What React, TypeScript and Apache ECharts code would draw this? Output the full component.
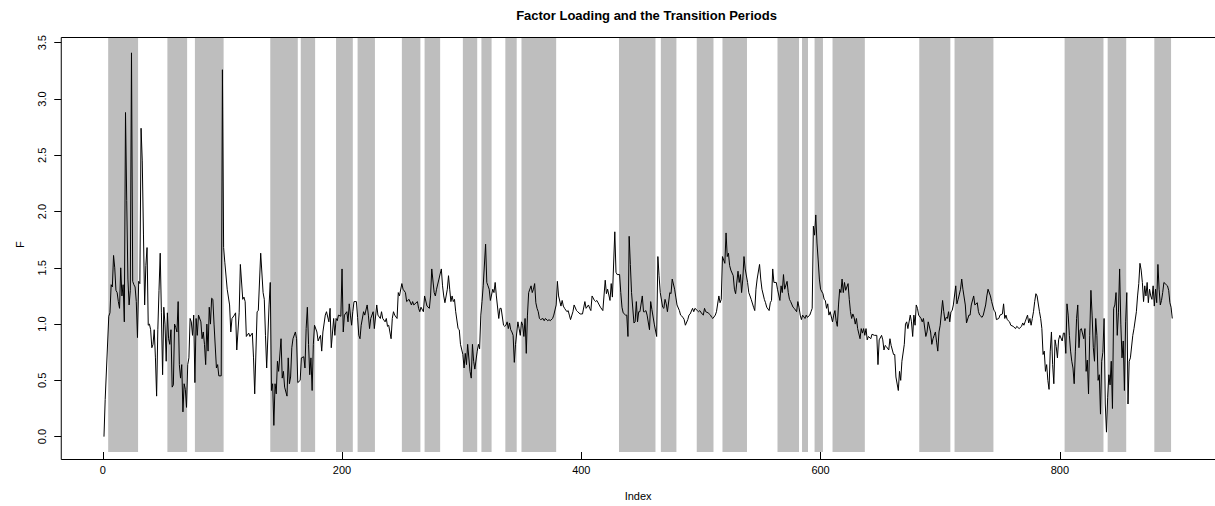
import React, { useEffect, useRef } from "react";
import * as echarts from "echarts";

const TITLE = "Factor Loading and the Transition Periods";
const X_NAME = "Index";
const Y_NAME = "F";
const X_TICKS = [0, 200, 400, 600, 800];
const Y_TICKS = [0, 0.5, 1, 1.5, 2, 2.5, 3, 3.5];

// transition periods (index ranges shaded in grey)
const BAND_START = [4.5, 54, 77, 140, 165.5, 195, 213, 250, 269, 301, 316.5, 336.5, 350, 431.5, 466.5, 496.5, 518, 564, 584.5, 595, 610, 682.5, 712, 804, 840, 879];
const BAND_END = [29.5, 70.5, 101, 163, 177.5, 209, 227.5, 265.5, 282, 313, 325, 346, 379, 462, 479.5, 510.5, 538.5, 582, 589.5, 602, 637, 708.5, 744.5, 836.5, 855.5, 893];

// factor loading F, as [index, value]
const F_A: [number, number][] = [
  [1, 0.0], [2, 0.33], [5, 1.07], [6, 1.1], [7, 1.35], [8, 1.33], [9, 1.61], [10, 1.5], [11, 1.3], [12, 1.28], [13, 1.2], [14, 1.14], [15, 1.5], [16, 1.25], [17, 1.35], [18, 1.02], [19, 2.88], [20, 2.1], [21, 1.4], [22, 1.17], [23, 1.3], [24, 3.41], [25, 1.38], [26, 1.35], [27, 1.33], [28, 1.2], [29, 0.88], [30, 1.38], [31, 1.36], [32, 2.74], [33, 2.45], [34, 1.8], [35, 1.17], [36, 1.52], [37, 1.68], [38, 0.99], [39, 1.0], [40, 0.95], [41, 0.79], [42, 0.82], [43, 0.95], [44, 0.7], [45, 0.36], [46, 0.95], [47, 1.3], [48, 1.63], [49, 1.1], [50, 0.55], [51, 1.15], [52, 1.0], [53, 0.67], [54, 1.1], [55, 0.87], [56, 0.82], [57, 0.95], [58, 0.44], [59, 0.46], [60, 1.0], [61, 0.97], [62, 0.93], [63, 1.2], [64, 0.64], [65, 0.52], [66, 0.64], [67, 0.22], [68, 0.47], [69, 0.42], [70, 0.26], [71, 0.64], [72, 0.7], [73, 1.05], [74, 1.02], [75, 0.9], [76, 1.08], [77, 0.48], [78, 1.05], [79, 0.9], [80, 1.08], [82, 1.02], [83, 0.87], [84, 0.93], [85, 0.82], [86, 0.64], [87, 1.0], [88, 0.76], [89, 1.15], [90, 1.0], [91, 1.23], [92, 1.22], [93, 1.0], [95, 0.61], [96, 0.64], [97, 0.54], [99, 0.54], [100, 3.26],
];
const F_B: [number, number][] = [
  [101, 1.68], [102, 1.55], [104, 1.31], [106, 1.17], [107, 0.93], [108, 1.05], [110, 1.08], [111, 1.1], [112, 0.77], [114, 1.1], [115, 1.53], [117, 1.22], [118, 1.24], [119, 1.2], [120, 0.89], [122, 0.92], [123, 0.89], [125, 0.92], [126, 0.7], [127, 0.38], [129, 1.11], [130, 1.12], [132, 1.63], [134, 1.28], [135, 1.22], [136, 0.9], [137, 0.61], [139, 1.17], [140, 1.37], [141, 0.41], [142, 0.47], [143, 0.1], [144, 0.47], [145, 0.38], [146, 0.67], [147, 0.58], [149, 0.87], [150, 0.52], [151, 0.58], [152, 0.44], [154, 0.36], [155, 0.7], [156, 0.47], [157, 0.53], [158, 0.79], [159, 0.87], [161, 0.93], [162, 0.87], [163, 0.48], [165, 0.5], [166, 0.7], [168, 0.71], [169, 0.61], [170, 0.96], [171, 1.15], [172, 0.82], [173, 0.55], [174, 0.7], [175, 0.41], [176, 0.82], [177, 0.99], [179, 0.93], [180, 0.85], [182, 0.9], [183, 0.76], [184, 0.93], [186, 1.08], [187, 1.11], [189, 1.02], [190, 1.14], [191, 0.79], [193, 1.05], [194, 0.9], [195, 1.05], [196, 1.03], [197, 1.08], [199, 1.07], [200, 1.49],
];
const F_C: [number, number][] = [
  [201, 0.93], [202, 1.08], [204, 1.11], [205, 1.02], [206, 1.18], [207, 1.08], [208, 0.99], [209, 1.11], [210, 1.2], [212, 1.2], [213, 1.06], [214, 0.9], [215, 0.87], [216, 0.99], [218, 1.11], [219, 1.08], [221, 1.17], [222, 1.08], [223, 0.96], [224, 1.05], [226, 1.11], [227, 0.96], [229, 1.17], [230, 1.08], [232, 1.05], [233, 1.11], [234, 1.05], [236, 1.02], [237, 1.05], [238, 0.98], [239, 0.99], [241, 0.87], [242, 1.05], [243, 1.11], [244, 1.08], [246, 1.05], [247, 1.28], [248, 1.25], [250, 1.36], [251, 1.31], [253, 1.28], [254, 1.2], [256, 1.22], [258, 1.17], [259, 1.2], [260, 1.17], [261, 1.18], [263, 1.2], [264, 1.14], [265, 1.11], [266, 1.15], [268, 1.11], [269, 1.25], [271, 1.16], [273, 1.14], [274, 1.25], [275, 1.49], [277, 1.28], [278, 1.25], [279, 1.31], [281, 1.4], [283, 1.49], [284, 1.34], [285, 1.25], [286, 1.19], [288, 1.31], [289, 1.43], [290, 1.31], [291, 1.2], [292, 1.25], [293, 1.2], [294, 1.22], [295, 1.11], [297, 0.96], [298, 0.95], [299, 0.82],
];
const F_D: [number, number][] = [
  [301, 0.73], [302, 0.61], [303, 0.74], [304, 0.64], [305, 0.82], [307, 0.58], [308, 0.52], [309, 0.82], [310, 0.67], [311, 0.6], [313, 0.76], [314, 0.82], [315, 0.78], [316, 1.08], [317, 1.2], [318, 1.34], [320, 1.71], [321, 1.37], [322, 1.34], [323, 1.31], [324, 1.21], [326, 1.31], [327, 1.28], [328, 1.37], [329, 1.25], [331, 1.05], [332, 1.14], [333, 1.14], [335, 0.99], [336, 0.98], [337, 0.99], [338, 1.02], [339, 0.96], [340, 1.01], [341, 0.95], [342, 0.93], [343, 0.9], [344, 0.66], [345, 0.82], [347, 1.02], [348, 0.96], [349, 0.9], [350, 1.02], [351, 0.99], [352, 0.89], [353, 1.05], [354, 0.74], [355, 1.08], [356, 1.28], [358, 1.34], [359, 1.28], [360, 1.31], [361, 1.36], [362, 1.19], [363, 1.14], [364, 1.11], [365, 1.05], [366, 1.04], [368, 1.05], [369, 1.03], [370, 1.05], [372, 1.03], [373, 1.04], [374, 1.03], [376, 1.05], [377, 1.08], [379, 1.17], [380, 1.38], [381, 1.25], [383, 1.16], [384, 1.21], [385, 1.16], [386, 1.14], [388, 1.11], [389, 1.12], [390, 1.08], [391, 1.04], [393, 1.11], [394, 1.17], [396, 1.12], [397, 1.11], [399, 1.09],
];
const F_E: [number, number][] = [
  [401, 1.09], [403, 1.2], [404, 1.14], [406, 1.17], [407, 1.14], [408, 1.12], [409, 1.25], [411, 1.21], [412, 1.2], [413, 1.21], [415, 1.17], [416, 1.15], [418, 1.12], [420, 1.39], [421, 1.27], [422, 1.31], [424, 1.21], [425, 1.36], [426, 1.24], [428, 1.82], [429, 1.46], [430, 1.44], [432, 1.44], [433, 1.28], [434, 1.15], [435, 1.1], [437, 1.08], [438, 1.08], [439, 0.89], [440, 1.78], [441, 1.53], [442, 1.28], [444, 1.01], [445, 1.02], [446, 1.2], [447, 1.02], [448, 1.11], [449, 1.11], [451, 1.25], [452, 1.11], [453, 1.11], [454, 1.12], [455, 1.08], [457, 0.95], [458, 1.2], [459, 1.13], [461, 1.0], [463, 0.89], [464, 1.6], [465, 1.43], [466, 1.28], [468, 1.15], [469, 1.14], [470, 1.22], [471, 1.18], [472, 1.11], [474, 1.28], [475, 1.27], [476, 1.4], [478, 1.31], [479, 1.24], [480, 1.17], [482, 1.12], [483, 1.08], [485, 1.06], [486, 1.04], [487, 0.99], [489, 1.04], [490, 1.08], [491, 1.09], [493, 1.14], [494, 1.11], [495, 1.14], [497, 1.12], [498, 1.11], [499, 1.12],
];
const F_F: [number, number][] = [
  [501, 1.09], [502, 1.08], [503, 1.14], [504, 1.11], [506, 1.1], [508, 1.08], [509, 1.06], [510, 1.05], [512, 1.08], [513, 1.11], [515, 1.25], [516, 1.19], [517, 1.22], [518, 1.6], [520, 1.54], [521, 1.81], [522, 1.6], [523, 1.63], [524, 1.52], [525, 1.48], [527, 1.43], [528, 1.31], [529, 1.27], [531, 1.47], [532, 1.37], [533, 1.44], [534, 1.28], [535, 1.4], [536, 1.6], [537, 1.49], [539, 1.37], [540, 1.28], [542, 1.22], [544, 1.15], [545, 1.12], [546, 1.31], [547, 1.4], [549, 1.53], [550, 1.4], [551, 1.31], [553, 1.22], [554, 1.19], [555, 1.15], [557, 1.12], [558, 1.19], [559, 1.21], [560, 1.49], [561, 1.37], [563, 1.37], [564, 1.31], [566, 1.21], [567, 1.34], [568, 1.28], [569, 1.44], [570, 1.31], [572, 1.38], [573, 1.28], [574, 1.22], [575, 1.2], [577, 1.15], [578, 1.14], [580, 1.11], [581, 1.2], [582, 1.15], [583, 1.08], [584, 1.04], [585, 1.08], [587, 1.05], [588, 1.08], [589, 1.06], [591, 1.08], [592, 1.11], [593, 1.14], [594, 1.87], [595, 1.79], [596, 1.97], [597, 1.72], [598, 1.57], [599, 1.4], [600, 1.31],
];
const F_G: [number, number][] = [
  [602, 1.27], [603, 1.22], [604, 1.21], [605, 1.14], [606, 1.18], [607, 1.08], [608, 1.11], [610, 1.02], [611, 1.08], [612, 1.12], [613, 1.03], [614, 0.98], [615, 1.17], [616, 1.31], [617, 1.28], [618, 1.4], [619, 1.28], [620, 1.37], [621, 1.3], [623, 1.36], [624, 1.22], [625, 1.11], [626, 1.05], [627, 1.09], [628, 1.06], [629, 1.0], [630, 1.05], [631, 0.96], [633, 0.87], [634, 0.96], [635, 0.92], [636, 0.96], [637, 0.9], [638, 0.96], [639, 0.86], [640, 0.89], [642, 0.87], [643, 0.91], [645, 0.9], [647, 0.9], [648, 0.64], [649, 0.86], [651, 0.9], [652, 0.86], [653, 0.77], [654, 0.81], [655, 0.8], [657, 0.77], [658, 0.87], [659, 0.81], [661, 0.73], [662, 0.73], [663, 0.53], [665, 0.41], [666, 0.58], [667, 0.5], [668, 0.67], [670, 0.82], [671, 1.0], [672, 1.02], [673, 0.96], [675, 1.08], [676, 1.02], [677, 0.89], [678, 1.08], [679, 0.99], [680, 1.17], [681, 1.14], [682, 1.08], [684, 1.05], [685, 1.02], [686, 1.05], [688, 0.89], [689, 0.93], [690, 1.02], [692, 0.93], [693, 0.82], [694, 0.87], [695, 0.9], [696, 0.93], [697, 0.84], [698, 0.76], [699, 0.93], [700, 0.99],
];
const F_H: [number, number][] = [
  [702, 1.21], [703, 1.11], [704, 1.03], [705, 1.06], [706, 1.05], [707, 1.11], [708, 1.02], [709, 1.11], [710, 1.12], [711, 1.17], [713, 1.34], [714, 1.18], [715, 1.22], [717, 1.31], [718, 1.4], [719, 1.31], [721, 1.17], [722, 1.01], [724, 1.08], [725, 1.08], [726, 1.17], [728, 1.25], [729, 1.17], [731, 1.19], [732, 1.11], [733, 1.08], [735, 1.06], [736, 1.08], [738, 1.17], [739, 1.25], [740, 1.31], [742, 1.25], [743, 1.2], [745, 1.12], [746, 1.11], [747, 1.04], [749, 1.05], [750, 1.08], [752, 1.09], [753, 1.18], [754, 1.05], [755, 1.08], [756, 1.04], [758, 1.02], [759, 0.99], [761, 0.98], [763, 0.96], [764, 0.98], [766, 0.96], [768, 0.98], [769, 1.01], [770, 0.99], [771, 1.02], [773, 1.08], [774, 1.01], [775, 1.05], [776, 0.99], [777, 1.05], [778, 1.11], [779, 1.2], [780, 1.27], [781, 1.25], [783, 1.11], [784, 1.05], [785, 0.96], [786, 0.73], [787, 0.76], [788, 0.58], [789, 0.64], [790, 0.5], [791, 0.42], [792, 0.76], [793, 0.93], [794, 0.64], [795, 0.47], [796, 0.86], [797, 0.8], [798, 0.7], [799, 0.86], [800, 0.9],
];
const F_I: [number, number][] = [
  [802, 0.85], [803, 0.92], [804, 0.92], [805, 0.74], [806, 1.18], [807, 1.08], [808, 0.9], [809, 0.76], [810, 0.67], [811, 0.61], [812, 0.47], [813, 0.76], [814, 1.05], [815, 1.17], [816, 0.79], [817, 0.95], [818, 0.96], [820, 0.87], [821, 0.96], [822, 0.58], [823, 0.68], [824, 0.38], [825, 0.9], [826, 1.3], [827, 1.08], [828, 0.79], [829, 0.67], [830, 1.05], [831, 0.9], [832, 0.5], [833, 0.55], [834, 0.2], [835, 0.67], [836, 0.75], [837, 1.05], [838, 0.29], [839, 0.04], [840, 0.35], [841, 0.55], [842, 0.46], [843, 0.67], [844, 0.25], [845, 1.14], [846, 1.17], [847, 1.28], [848, 0.9], [849, 1.1], [850, 1.49], [851, 1.0], [852, 0.7], [853, 0.85], [854, 0.41], [855, 1.02], [856, 1.28], [857, 0.29], [858, 0.67], [859, 0.7], [861, 0.9], [862, 0.96], [864, 1.11], [865, 1.25], [866, 1.36], [867, 1.54], [868, 1.48], [869, 1.37], [870, 1.2], [871, 1.34], [872, 1.25], [873, 1.37], [874, 1.19], [875, 1.31], [876, 1.25], [877, 1.22], [878, 1.34], [879, 1.16], [880, 1.31], [881, 1.19], [882, 1.53], [883, 1.31], [884, 1.17], [885, 1.21], [886, 1.28], [887, 1.37], [888, 1.36], [889, 1.35], [890, 1.34], [891, 1.3], [892, 1.19], [893, 1.15], [894, 1.05],
];

const F_SERIES = [...F_A, ...F_B, ...F_C, ...F_D, ...F_E, ...F_F, ...F_G, ...F_H, ...F_I];

export default function App() {
  const ref = useRef<HTMLDivElement>(null);

  useEffect(() => {
    if (!ref.current) return;
    const chart = echarts.init(ref.current, null, { renderer: "svg" });
    const font = "'Liberation Sans', Arial, Helvetica, sans-serif";
    const gl = 61.25, gt = 37.5, gw = 1159.7, gh = 422;
    chart.setOption({
      animation: false,
      title: {
        text: TITLE,
        left: 641.5,
        top: 4,
        textAlign: "center",
        textStyle: { fontFamily: font, fontSize: 13, fontWeight: "bold", color: "#000" },
      },
      grid: { left: gl, top: gt, width: gw, height: gh, show: false },
      xAxis: {
        type: "value",
        min: -34.72,
        max: 929.72,
        axisLine: { show: false, onZero: false },
        splitLine: { show: false },
        axisTick: { show: true, customValues: X_TICKS, length: 7, lineStyle: { color: "#000", width: 1 } },
        axisLabel: { customValues: X_TICKS, margin: 12, fontSize: 11, color: "#000", fontFamily: font },
        name: X_NAME,
        nameLocation: "middle",
        nameGap: 38,
        nameTextStyle: { fontSize: 11, color: "#000", fontFamily: font },
      },
      yAxis: {
        type: "value",
        min: -0.1364,
        max: 3.5464,
        axisLine: { show: false, onZero: false },
        splitLine: { show: false },
        axisTick: { show: true, customValues: Y_TICKS, length: 7, lineStyle: { color: "#000", width: 1 } },
        axisLabel: {
          customValues: Y_TICKS,
          rotate: 90,
          margin: 14,
          fontSize: 11,
          color: "#000",
          fontFamily: font,
          formatter: (v: number) => v.toFixed(1),
        },
        name: Y_NAME,
        nameLocation: "middle",
        nameGap: 36,
        nameRotate: 90,
        nameTextStyle: { fontSize: 11, color: "#000", fontFamily: font },
      },
      graphic: [
        {
          type: "rect",
          z: 100,
          silent: true,
          shape: { x: gl, y: gt, width: gw, height: gh },
          style: { fill: "none", stroke: "#000", lineWidth: 1 },
        },
      ],
      series: [
        {
          type: "line",
          data: [],
          z: 1,
          silent: true,
          markArea: {
            silent: true,
            itemStyle: { color: "#BEBEBE", opacity: 1, borderWidth: 0 },
            data: BAND_START.map((s, i) => [{ xAxis: s }, { xAxis: BAND_END[i] }]),
          },
        },
        {
          type: "line",
          data: F_SERIES,
          z: 2,
          silent: true,
          symbol: "none",
          showSymbol: false,
          lineStyle: { color: "#000", width: 1 },
          emphasis: { disabled: true },
        },
      ],
    });
    return () => chart.dispose();
  }, []);

  return <div ref={ref} style={{ position: "absolute", left: 0, top: 0, width: 1215, height: 506 }} />;
}
